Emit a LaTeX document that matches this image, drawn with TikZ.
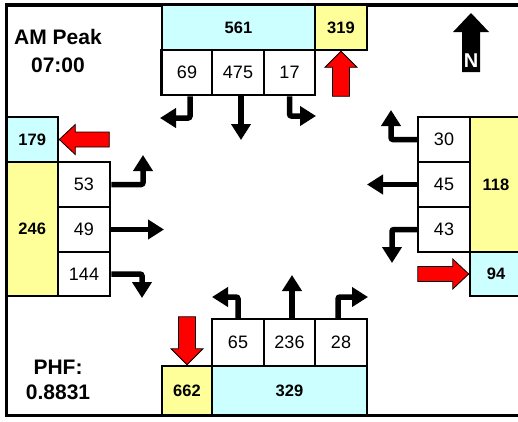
\documentclass[tikz,border=0pt]{standalone}
\usepackage{fontspec}
\setmainfont{Liberation Sans}
\usetikzlibrary{arrows.meta}
\definecolor{cyanbox}{HTML}{CCFFFF}
\definecolor{yelbox}{HTML}{FFFF99}
\begin{document}
\begin{tikzpicture}[x=1pt,y=-1pt,
  box/.style={draw, line width=2.5pt, inner sep=0pt, minimum height=45pt},
  num/.style={font=\fontsize{18pt}{18pt}\selectfont},
  bnum/.style={font=\bfseries\fontsize{16.5pt}{16.5pt}\selectfont},
  cyanb/.style={box, fill=cyanbox, bnum},
  yelb/.style={box, fill=yelbox, bnum},
  cellw/.style={box, fill=white, num},
  title/.style={font=\bfseries\fontsize{21pt}{21pt}\selectfont, inner sep=0pt},
  arr/.style={line width=5.5pt, -{Triangle[length=16pt,width=19pt]}, rounded corners=2pt},
  redarrow/.style={fill=red, draw=black, line width=0.8pt, line join=miter},
]
\useasboundingbox (0,0) rectangle (518,421);
% frame
\draw[line width=3.5pt] (6.5,5) rectangle (522,415.5);

% labels
\node[title] (am) at (58,37) {AM Peak};
\node[title] (tm) at (58,65) {07:00};
\node[title] (phf) at (58,367) {PHF:};
\node[title] (phfv) at (58,392) {0.8831};

% north
\node[cyanb, minimum width=153pt] (n561) at (238.5,27.5) {561};
\node[yelb, minimum width=52pt] (n319) at (341,27.5) {319};
\node[cellw, minimum width=51pt] (n69) at (187,72.5) {69};
\node[cellw, minimum width=52pt] (n475) at (238,72.5) {475};
\node[cellw, minimum width=51pt] (n17) at (289.5,72.5) {17};

% west
\node[cyanb, minimum width=51.5pt] (w179) at (32.25,139.5) {179};
\node[yelb, minimum width=51.5pt, minimum height=134pt] (w246) at (32.25,229) {246};
\node[cellw, minimum width=52pt] (w53) at (84,184.5) {53};
\node[cellw, minimum width=52pt] (w49) at (84,229.5) {49};
\node[cellw, minimum width=52pt, minimum height=44pt] (w144) at (84,274) {144};

% east
\node[cellw, minimum width=52pt] (e30) at (444,139.5) {30};
\node[cellw, minimum width=52pt] (e45) at (444,184.5) {45};
\node[cellw, minimum width=52pt] (e43) at (444,229.5) {43};
\node[yelb, minimum width=52pt, minimum height=135pt] (e118) at (496,184.5) {118};
\node[cyanb, minimum width=52pt, minimum height=44pt] (e94) at (496,274) {94};

% south
\node[cellw, minimum width=52pt, minimum height=47pt] (s65) at (238,342.5) {65};
\node[cellw, minimum width=51pt, minimum height=47pt] (s236) at (289.5,342.5) {236};
\node[cellw, minimum width=52pt, minimum height=47pt] (s28) at (341,342.5) {28};
\node[yelb, minimum width=50pt, minimum height=49pt] (s662) at (187,390.5) {662};
\node[cyanb, minimum width=155pt, minimum height=49pt] (s329) at (289.5,390.5) {329};

% movement arrows
\coordinate (t69) at (160,118);
\coordinate (t475) at (241,140);
\coordinate (t17) at (316,116);
\draw[arr] ([xshift=3pt]n69.south) |- (t69);
\draw[arr] ([xshift=3pt]n475.south) -- (t475);
\draw[arr] (n17.south) |- (t17);

\coordinate (t53) at (143,155);
\coordinate (t49) at (164,229.5);
\coordinate (t144) at (142,298);
\draw[arr] (w53.east) -| (t53);
\draw[arr] (w49.east) -- (t49);
\draw[arr] (w144.east) -| (t144);

\coordinate (t30) at (391,110);
\coordinate (t45) at (367,184.5);
\coordinate (t43) at (392,263);
\draw[arr] (e30.west) -| (t30);
\draw[arr] (e45.west) -- (t45);
\draw[arr] (e43.west) -| (t43);

\coordinate (t65) at (212,297);
\coordinate (t236) at (292,275);
\coordinate (t28) at (368,297);
\draw[arr] (s65.north) |- (t65);
\draw[arr] ([xshift=2.5pt]s236.north) -- (t236);
\draw[arr] ([xshift=-3pt]s28.north) |- (t28);

% red exit arrows
\draw[redarrow] (n319.south) -- ++(16,16) -- ++(-7.5,0) -- ++(0,29) -- ++(-17,0) -- ++(0,-29) -- ++(-7.5,0) -- cycle;
\draw[redarrow] (w179.east) -- ++(16,-15) -- ++(0,7.5) -- ++(34,0) -- ++(0,15) -- ++(-34,0) -- ++(0,7.5) -- cycle;
\draw[redarrow] (e94.west) -- ++(-16,-15) -- ++(0,7.5) -- ++(-35,0) -- ++(0,15) -- ++(35,0) -- ++(0,7.5) -- cycle;
\draw[redarrow] (s662.north) -- ++(-16,-16) -- ++(7.5,0) -- ++(0,-32) -- ++(17,0) -- ++(0,32) -- ++(7.5,0) -- cycle;

% north compass
\fill[black] (471,13) -- ++(18,19) -- ++(-9,0) -- ++(0,40) -- ++(-18,0) -- ++(0,-40) -- ++(-9,0) -- cycle;
\node[text=white, font=\bfseries\fontsize{20pt}{20pt}\selectfont, inner sep=0pt] (north) at (471,61) {N};
\end{tikzpicture}
\end{document}
